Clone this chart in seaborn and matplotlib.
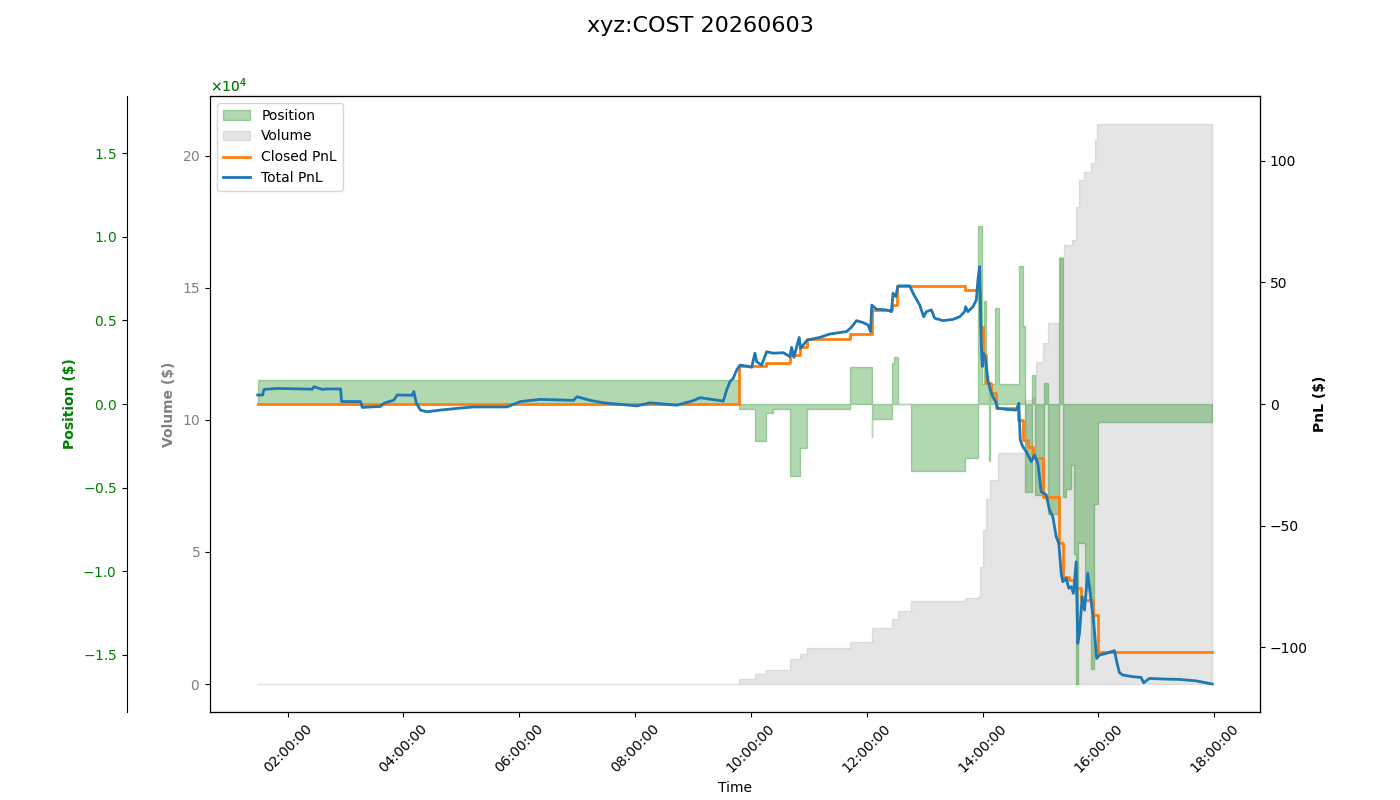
import pandas as pd
import numpy as np
import matplotlib
matplotlib.use("Agg")
import matplotlib.pyplot as plt
import matplotlib.dates as mdates
import seaborn as sns

day = "2026-06-03 "
symbol = "xyz:COST"

# cumulative traded volume ($)
vol_time = ["01:29:00", "09:47:35", "10:04:08", "10:15:31", "10:40:20", "10:50:41", "10:57:56",
            "11:42:25", "12:05:10", "12:25:52", "12:32:04", "12:45:31", "13:41:23", "13:54:50",
            "13:56:54", "14:00:00", "14:04:00", "14:07:14", "14:15:31", "14:43:27", "14:50:41",
            "14:54:50", "15:02:04", "15:07:14", "15:19:40", "15:24:50", "15:33:06", "15:37:14",
            "15:40:21", "15:45:31", "15:52:46", "15:56:54", "15:58:58", "17:57:56"]
vol_value = [0, 1800, 3700, 5300, 9500, 11200, 13500,
             16000, 21100, 24500, 27700, 31600, 32500, 32800,
             44300, 58300, 70000, 77300, 87500, 107600, 108300,
             122000, 129200, 136700, 161700, 166300, 168200, 180700,
             190900, 193900, 197400, 206100, 212100, 212100]

# position ($)
pos_time = ["01:29:00", "09:47:35", "10:04:08", "10:15:31", "10:23:05", "10:40:20", "10:50:41",
            "10:57:56", "11:42:25", "12:05:10", "12:05:50", "12:25:52", "12:27:56", "12:32:04",
            "12:45:31", "13:41:23", "13:54:50", "13:59:20", "14:01:33", "14:03:37", "14:06:43",
            "14:07:45", "14:12:25", "14:16:33", "14:37:14", "14:41:23", "14:43:27", "14:50:41",
            "14:53:47", "15:03:06", "15:07:14", "15:19:08", "15:23:47", "15:26:54", "15:31:46",
            "15:35:10", "15:37:14", "15:39:19", "15:46:33", "15:52:27", "15:55:52", "15:59:17",
            "17:57:56"]
pos_value = [1420, -320, -2220, -560, -320, -4320, -2620,
             -320, 2200, -1960, -920, 2440, 2800, 0,
             -4020, -3260, 10640, 1180, 6140, 1180, -3400,
             1180, 5740, 1180, 8240, 4640, -5260, 1740,
             -5460, 1240, -6560, 8740, -5560, -5060, -3660,
             -9000, -16760, -8340, -10960, -15860, -6000, -1060,
             -1060]

# realised pnl ($)
closed_time = ["01:29:00", "09:47:35", "10:15:31", "10:40:20", "10:50:41", "10:57:56", "11:42:25",
               "12:05:10", "12:25:52", "12:31:46", "13:41:23", "13:57:39", "14:00:20", "14:03:52",
               "14:09:02", "14:13:29", "14:36:33", "14:41:43", "14:46:54", "14:52:04", "15:02:25",
               "15:18:58", "15:23:06", "15:30:00", "15:35:10", "15:42:04", "15:54:04", "15:59:17",
               "17:57:56"]
closed_pnl = [0, 15.5, 17.0, 20.3, 23.6, 26.8, 29.0,
              38.5, 40.7, 48.4, 47.0, 31.8, 20.2, 8.5,
              4.4, -1.8, -6.6, -14.8, -17.6, -22.3, -38.4,
              -57.3, -71.1, -72.4, -75.9, -80.7, -86.8, -101.9,
              -101.9]

# realised + unrealised pnl ($)
total_time = ["01:29:00", "01:34:08", "01:35:29", "01:49:21", "02:25:33", "02:27:12", "02:35:54",
              "02:41:04", "02:54:50", "02:55:52", "03:15:31", "03:17:17", "03:36:12", "03:39:37",
              "03:49:58", "03:53:29", "04:09:00", "04:10:39", "04:13:27", "04:17:35", "04:24:31",
              "04:38:17", "04:55:33", "05:12:43", "05:47:17", "06:01:02", "06:21:43", "06:56:10",
              "06:59:41", "07:13:27", "07:27:12", "08:01:46", "08:15:31", "08:43:08", "09:00:19",
              "09:07:14", "09:31:21", "09:34:52", "09:38:17", "09:41:41", "09:45:13", "09:48:37",
              "09:55:33", "10:00:43", "10:04:08", "10:05:54", "10:11:04", "10:16:14", "10:23:04",
              "10:33:25", "10:40:20", "10:42:06", "10:44:29", "10:49:58", "10:51:25", "10:58:14",
              "11:11:23", "11:21:43", "11:39:00", "11:44:10", "11:49:21", "11:56:10", "12:01:21",
              "12:03:50", "12:05:10", "12:10:02", "12:20:23", "12:25:33", "12:27:12", "12:30:00",
              "12:32:23", "12:44:29", "12:47:54", "12:54:50", "12:58:58", "13:01:46", "13:06:56",
              "13:10:21", "13:18:56", "13:29:17", "13:36:12", "13:41:23", "13:42:25", "13:44:48",
              "13:49:58", "13:53:29", "13:55:08", "13:56:54", "13:58:39", "13:59:41", "14:01:02",
              "14:03:06", "14:05:29", "14:07:58", "14:10:40", "14:13:27", "14:15:50", "14:24:31",
              "14:34:52", "14:37:33", "14:39:00", "14:41:41", "14:45:13", "14:50:23", "14:53:47",
              "14:57:13", "15:00:43", "15:05:54", "15:09:19", "15:12:43", "15:16:14", "15:18:56",
              "15:21:25", "15:23:04", "15:26:35", "15:29:17", "15:31:46", "15:34:08", "15:36:56",
              "15:38:35", "15:40:21", "15:43:08", "15:45:31", "15:48:56", "15:51:25", "15:54:50",
              "15:58:14", "16:01:02", "16:07:58", "16:16:33", "16:19:21", "16:21:43", "16:25:08",
              "16:35:29", "16:44:10", "16:46:52", "16:52:46", "17:10:02", "17:23:47", "17:41:04",
              "17:57:56"]
total_pnl = [3.7, 3.7, 6.0, 6.4, 6.1, 7.1, 6.0,
             6.2, 6.2, 1.0, 1.0, -1.4, -1.0, 0.3,
             1.6, 3.7, 3.6, 5.1, 0.3, -2.5, -3.2,
             -2.5, -1.8, -1.2, -1.2, 1.0, 1.9, 1.5,
             3.0, 1.5, 0.5, -0.8, 0.5, -0.5, 1.4,
             2.6, 1.2, 5.8, 9.2, 10.6, 14.0, 16.0,
             15.6, 15.1, 20.9, 17.4, 16.0, 21.5, 20.9,
             21.1, 19.5, 23.3, 19.2, 27.4, 22.9, 26.3,
             27.4, 28.8, 29.8, 31.6, 34.3, 33.5, 32.5,
             29.8, 40.7, 39.0, 38.7, 38.0, 45.6, 44.2,
             48.6, 48.6, 45.6, 40.7, 35.9, 38.0, 38.7,
             35.3, 34.3, 34.8, 35.9, 38.0, 40.0, 38.0,
             40.0, 42.8, 51.0, 56.5, 23.6, 15.4, 20.9,
             18.1, 9.9, 5.8, 3.0, 1.0, -1.8, -2.2,
             -2.5, 0.3, -14.8, -17.6, -19.6, -23.7, -21.0,
             -24.4, -36.1, -37.4, -43.6, -46.4, -54.6, -57.3,
             -69.7, -73.1, -71.7, -75.8, -75.2, -77.9, -64.9,
             -98.5, -94.4, -79.3, -84.8, -69.7, -77.9, -88.9,
             -104.7, -103.3, -102.6, -101.5, -106.7, -110.5, -111.5,
             -112.2, -112.5, -114.7, -112.9, -113.2, -113.3, -113.9,
             -115.2]


def to_dt(times):
    return pd.to_datetime([day + t for t in times])


vol_df = pd.DataFrame({"Time": to_dt(vol_time), "Volume": vol_value})
pos_df = pd.DataFrame({"Time": to_dt(pos_time), "Position": pos_value})
closed_df = pd.DataFrame({"Time": to_dt(closed_time), "PnL": closed_pnl})
total_df = pd.DataFrame({"Time": to_dt(total_time), "PnL": total_pnl})

fig, ax = plt.subplots(figsize=(14, 8), dpi=100)
fig.subplots_adjust(left=0.15, right=0.9, top=0.88, bottom=0.11)

ax_pnl = ax.twinx()
ax_pos = ax.twinx()
ax_pos.set_zorder(1)
ax_pnl.set_zorder(2)

# volume on the main axis
ax.fill_between(vol_df["Time"], 0, vol_df["Volume"], step="post", color="gray", alpha=0.2, label="Volume")
ax.set_ylabel("Volume ($)", color="gray", fontweight="bold")
ax.ticklabel_format(axis="y", style="sci", scilimits=(4, 4), useMathText=True)
ax.tick_params(axis="y", labelcolor="gray")

# position on an offset left axis
ax_pos.fill_between(pos_df["Time"], 0, pos_df["Position"], step="post", color="green", alpha=0.3, label="Position")
ax_pos.spines["left"].set_position(("outward", 60))
ax_pos.spines["left"].set_visible(True)
ax_pos.yaxis.set_ticks_position("left")
ax_pos.yaxis.set_label_position("left")
ax_pos.yaxis.set_offset_position("left")
ax_pos.set_ylabel("Position ($)", color="green", fontweight="bold")
ax_pos.ticklabel_format(axis="y", style="sci", scilimits=(4, 4), useMathText=True)
ax_pos.tick_params(axis="y", labelcolor="green")
plim = 1.1 * np.abs(pos_value).max()
ax_pos.set_ylim(-plim, plim)

# pnl lines on the right axis
sns.lineplot(data=closed_df, x="Time", y="PnL", ax=ax_pnl, color="tab:orange", linewidth=2,
             drawstyle="steps-post", label="Closed PnL", estimator=None, sort=False, legend=False)
sns.lineplot(data=total_df, x="Time", y="PnL", ax=ax_pnl, color="tab:blue", linewidth=2,
             label="Total PnL", estimator=None, sort=False, legend=False)
ax_pnl.set_ylabel("PnL ($)", fontweight="bold")
lim = 1.1 * max(np.abs(closed_pnl).max(), np.abs(total_pnl).max())
ax_pnl.set_ylim(-lim, lim)

ax.xaxis.set_major_locator(mdates.HourLocator(byhour=range(0, 24, 2)))
ax.xaxis.set_major_formatter(mdates.DateFormatter("%H:%M:%S"))
ax.tick_params(axis="x", rotation=45)
ax.set_xlabel("Time")

handles = []
labels = []
for a in (ax_pos, ax, ax_pnl):
    h, l = a.get_legend_handles_labels()
    handles += h
    labels += l
ax_pnl.legend(handles, labels, loc="upper left")

fig.suptitle(f"{symbol} 20260603", fontsize=16)
fig.savefig("out.png", dpi=100)
